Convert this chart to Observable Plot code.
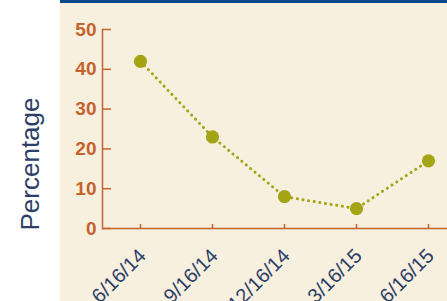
<!DOCTYPE html>
<html><head><meta charset="utf-8">
<script src="https://cdn.jsdelivr.net/npm/d3@7"></script>
<script src="https://cdn.jsdelivr.net/npm/@observablehq/plot@0.6"></script>
<style>
body{margin:0;background:#fff;}
#wrap{position:relative;width:447px;height:301px;overflow:hidden;
background:linear-gradient(to right,#ffffff 60px,#f8f0de 60px);}
#bar{position:absolute;left:60px;top:0;width:387px;height:3px;background:#0b4a8e;}
#wrap svg{position:absolute;left:0;top:0;}
</style></head>
<body><div id="wrap"><div id="bar"></div></div>
<script>
const dates = ["6/16/14","9/16/14","12/16/14","3/16/15","6/16/15"];
const values = [42, 23, 8, 5, 17];
const yTicks = [0,10,20,30,40,50];
const yTitle = "Percentage";

const data = dates.map((d,i)=>({date:d, value:values[i]}));
const orange = "#c6622c", navy = "#2c3f68", olive = "#a4a414";

const chart = Plot.plot({
  width: 447, height: 301,
  marginLeft: 102, marginRight: 0, marginTop: 29, marginBottom: 73,
  style: {background: "transparent", fontFamily: "'Liberation Sans', Arial, sans-serif", overflow: "visible"},
  x: {type: "point", domain: dates, padding: 0, insetLeft: 37, insetRight: 19},
  y: {domain: [0, 50]},
  marks: [
    Plot.frame({anchor: "left", stroke: orange, strokeWidth: 1.5}),
    Plot.ruleY([0], {stroke: orange, strokeWidth: 1.5}),
    Plot.axisY({ticks: yTicks, tickSize: 9, dx: 9, text: null, stroke: orange, strokeWidth: 1.5, label: null}),
    Plot.axisY({ticks: yTicks, tickSize: 0, tickPadding: 6, fill: orange, fontSize: 19, fontWeight: "bold", letterSpacing: 0.5, label: null}),
    Plot.axisX({tickSize: 4, dy: -4, text: null, stroke: orange, strokeWidth: 1.5, label: null}),
    Plot.axisX({tickSize: 0, tickRotate: -45, tickPadding: 24, dx: 2, fill: navy, fontSize: 20, letterSpacing: 0.3, label: null}),
    Plot.text([yTitle], {frameAnchor: "bottom-left", rotate: -90, textAnchor: "start", dx: -64, dy: 2, fill: navy, fontSize: 26, fontWeight: 300, letterSpacing: 0.5}),
    Plot.line(data, {x: "date", y: "value", stroke: olive, strokeWidth: 3, strokeDasharray: "0.1 5.6", strokeLinecap: "round"}),
    Plot.dot(data, {x: "date", y: "value", r: 6.6, fill: olive})
  ]
});
document.getElementById("wrap").appendChild(chart);
</script></body></html>
